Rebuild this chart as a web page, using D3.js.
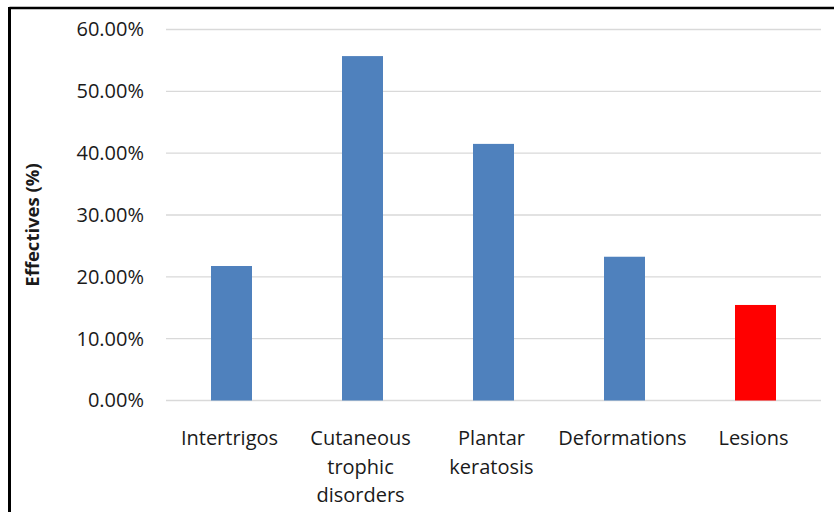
<!DOCTYPE html>
<html>
<head>
<meta charset="utf-8">
<script src="https://cdn.jsdelivr.net/npm/d3@7"></script>
<style>
  html, body { margin: 0; padding: 0; background: #fff; }
  svg { display: block; }
  text { font-family: "Open Sans", "Noto Sans", sans-serif; fill: #1a1a1a; }
</style>
</head>
<body>
<script>
// Share of patients for each foot finding
const categories = [
  ["Intertrigos"],
  ["Cutaneous", "trophic", "disorders"],
  ["Plantar", "keratosis"],
  ["Deformations"],
  ["Lesions"]
];
const values = [21.75, 55.7, 41.5, 23.25, 15.45];
const barColors = ["#4f81bd", "#4f81bd", "#4f81bd", "#4f81bd", "#ff0000"];
const yTicks = [0, 10, 20, 30, 40, 50, 60];
const yTitle = "Effectives (%)";

const W = 834, H = 512;
const plot = { left: 166, right: 821, top: 29.5, bottom: 400.5 };

const svg = d3.select("body").append("svg")
  .attr("width", W).attr("height", H);

// Frame edges (top and left)
svg.append("line").attr("x1", 9.5).attr("x2", W).attr("y1", 8).attr("y2", 8)
  .attr("stroke", "#000").attr("stroke-width", 2.5);
svg.append("line").attr("x1", 9.5).attr("x2", 9.5).attr("y1", 7).attr("y2", H)
  .attr("stroke", "#000").attr("stroke-width", 3);

const names = categories.map(c => c.join(" "));
const x = d3.scaleBand().domain(names)
  .range([plot.left, plot.right]).paddingInner(0.687).paddingOuter(0.3435);
const y = d3.scaleLinear().domain([0, 60]).range([plot.bottom, plot.top]);

// Horizontal gridlines
svg.append("g").selectAll("line").data(yTicks).join("line")
  .attr("x1", plot.left).attr("x2", plot.right)
  .attr("y1", d => y(d)).attr("y2", d => y(d))
  .attr("stroke", "#d9d9d9").attr("stroke-width", 1.3);

// Y axis tick labels
const yAxis = d3.axisLeft(y).tickValues(yTicks)
  .tickFormat(d => d.toFixed(2) + "%").tickSize(0).tickPadding(22);
const gy = svg.append("g").attr("transform", `translate(${plot.left},0)`).call(yAxis);
gy.select(".domain").remove();
gy.selectAll("text").attr("font-size", 20).attr("fill", "#1a1a1a")
  .attr("font-family", "\"Open Sans\", sans-serif");

// Bars
svg.append("g").selectAll("rect").data(values).join("rect")
  .attr("x", (d, i) => x(names[i]))
  .attr("width", x.bandwidth())
  .attr("y", d => y(d))
  .attr("height", d => y(0) - y(d))
  .attr("fill", (d, i) => barColors[i]);

// Category labels (wrapped)
const cat = svg.append("g").selectAll("text").data(categories).join("text")
  .attr("text-anchor", "middle")
  .attr("font-size", 20)
  .attr("x", (d, i) => x(names[i]) + x.bandwidth() / 2 - 2)
  .attr("y", 445);
cat.selectAll("tspan").data(d => d).join("tspan")
  .attr("x", function () { return d3.select(this.parentNode).attr("x"); })
  .attr("dy", (d, i) => i === 0 ? 0 : 28.5)
  .text(d => d);

// Y axis title
svg.append("text")
  .attr("transform", `translate(39,${(plot.top + plot.bottom) / 2 + 10}) rotate(-90)`)
  .attr("text-anchor", "middle")
  .attr("font-size", 18.5).attr("font-weight", "bold")
  .text(yTitle);
</script>
</body>
</html>
